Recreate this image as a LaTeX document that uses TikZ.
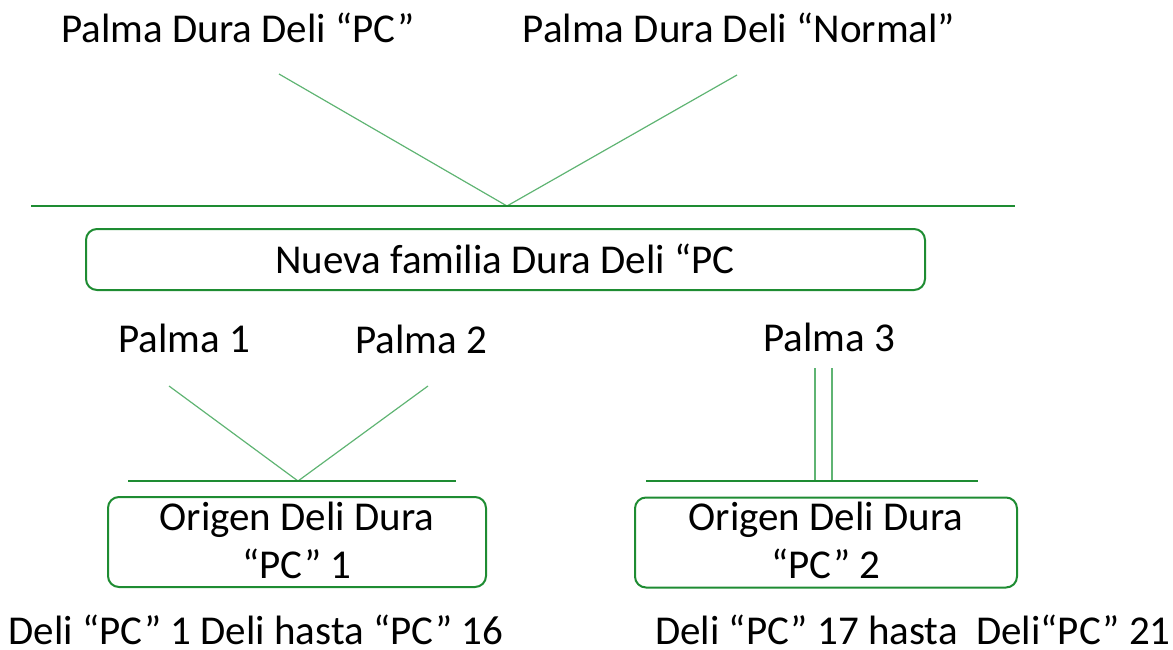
\documentclass[tikz,border=0pt]{standalone}
\usepackage{fontspec}
\setmainfont{Carlito}
\definecolor{leafgreen}{RGB}{30,140,50}
\definecolor{stemgreen}{RGB}{95,180,115}

\begin{document}
\begin{tikzpicture}[x=1pt, y=-1pt,
        palm/.style={font=\fontsize{41}{48}\selectfont, inner sep=0pt, anchor=base},
        family/.style={rectangle, draw=leafgreen, line width=2pt, rounded corners=11pt, inner sep=0pt},
        cross/.style={draw=leafgreen, line width=1.2pt},
        stem/.style={draw=stemgreen, line width=1.2pt}
        ]
        \useasboundingbox (0,0) rectangle (1173,650);

        % Nodes
        \node (pcparent) [palm] at (238,43) {Palma Dura Deli “PC”};
        \node (normalparent) [palm] at (739,43) {Palma Dura Deli “Normal”};
        \node (newfamily) [family, minimum width=839pt, minimum height=61pt] at (505.5,259.5) {};
        \node (newfamilytext) [palm] at (505,273) {Nueva familia Dura Deli “PC};
        \node (palm1) [palm] at (184,352) {Palma 1};
        \node (palm2) [palm] at (421,353) {Palma 2};
        \node (palm3) [palm] at (829,351) {Palma 3};
        \node (origin1) [family, minimum width=378pt, minimum height=90pt] at (297,542) {};
        \node (origin1text) [palm, align=center] at (297,578) {Origen Deli Dura\\“PC” 1};
        \node (origin2) [family, minimum width=382pt, minimum height=90pt] at (826,542.5) {};
        \node (origin2text) [palm, align=center] at (826,578) {Origen Deli Dura\\“PC” 2};
        \node (range1) [palm] at (256,644) {Deli “PC” 1 Deli hasta “PC” 16};
        \node (range2) [palm] at (913,644) {Deli “PC” 17 hasta\ \ Deli“PC” 21};

        % Crossing points
        \coordinate (pcfoot) at (279,74);
        \coordinate (normalfoot) at (737,75);
        \coordinate (topjoin) at (507,206);
        \coordinate (topbarL) at (31,206);
        \coordinate (topbarR) at (1015,206);
        \coordinate (palm1foot) at (169,386);
        \coordinate (palm2foot) at (428,386);
        \coordinate (leftjoin) at (298,481);
        \coordinate (leftbarL) at (128,481);
        \coordinate (leftbarR) at (456,481);
        \coordinate (palm3footA) at (815,368);
        \coordinate (palm3footB) at (832,368);
        \coordinate (rightbarL) at (646,481);
        \coordinate (rightbarR) at (978,481);

        % Lines
        \draw [stem] (pcfoot) -- (topjoin) -- (normalfoot);
        \draw [cross] (topbarL) -- (topbarR);
        \draw [stem] (palm1foot) -- (leftjoin) -- (palm2foot);
        \draw [cross] (leftbarL) -- (leftbarR);
        \draw [stem] (palm3footA) -- (palm3footA |- rightbarL);
        \draw [stem] (palm3footB) -- (palm3footB |- rightbarL);
        \draw [cross] (rightbarL) -- (rightbarR);

    \end{tikzpicture}
\end{document}
